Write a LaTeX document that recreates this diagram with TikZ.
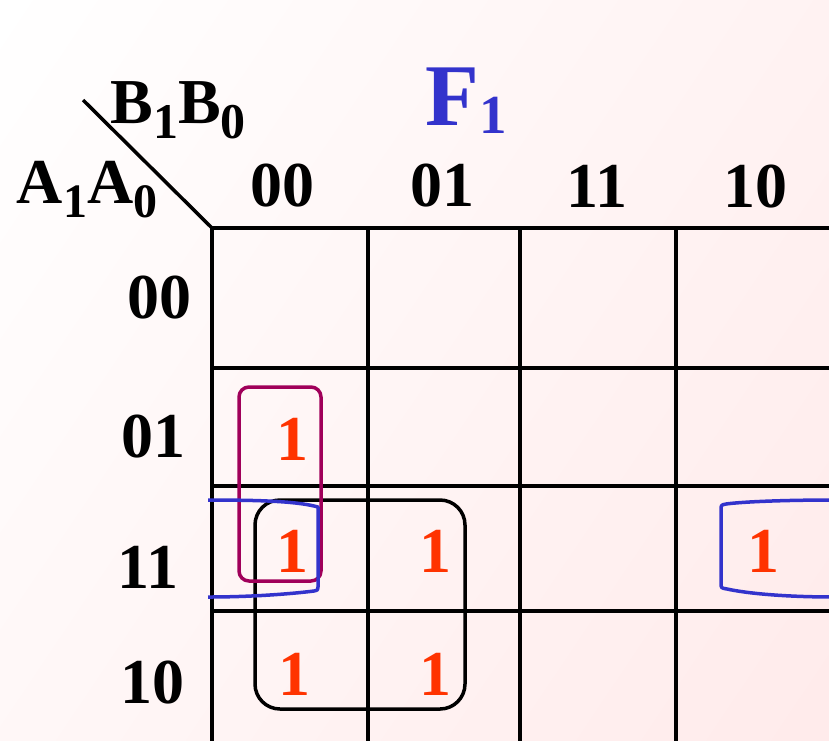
\documentclass[tikz,border=0pt]{standalone}
\usepackage{fontspec}
\setmainfont{Liberation Serif}
\usepackage{xcolor}
\usetikzlibrary{positioning, shadings}

\definecolor{fblue}{RGB}{51,51,204}
\definecolor{onered}{RGB}{255,51,0}
\definecolor{loopmaroon}{RGB}{160,0,90}
\newcommand{\lowsub}[3]{\raisebox{#2}{\fontsize{#1}{#1}\selectfont #3}}

\begin{document}
\begin{tikzpicture}[
        x=1pt, y=-1pt,
        head/.style={font=\fontsize{64}{64}\selectfont\bfseries, anchor=base, inner sep=0pt},
        title/.style={font=\fontsize{88}{88}\selectfont\bfseries, text=fblue, anchor=base, inner sep=0pt},
        onecell/.style={font=\fontsize{64}{64}\selectfont\bfseries, text=onered, anchor=base, inner sep=0pt},
        gridline/.style={line width=4pt, black},
        loopline/.style={line width=3.5pt, line join=round}
    ]
        \useasboundingbox (0,0) rectangle (829,740);
        \clip (0,0) rectangle (829,740);
        \shade[upper left=white, upper right=red!5, lower left=red!3, lower right=red!8] (0,0) rectangle (829,740);

        % grid
        \coordinate (corner) at (212,228);
        \foreach \gx in {212,368,520,676} \draw[gridline] (\gx,228) -- (\gx,760);
        \foreach \gy in {228,368,486,611} \draw[gridline] (210,\gy) -- (850,\gy);
        \draw[line width=3.5pt] (83,100) -- (corner);

        % labels
        \node[title] (F1) at (466,125) {F\lowsub{55}{-8pt}{1}};
        \node[head] (B) at (178,123) {B\lowsub{50}{-15pt}{1}B\lowsub{50}{-15pt}{0}};
        \node[head] (A) at (87,203) {A\lowsub{48}{-14pt}{1}A\lowsub{48}{-14pt}{0}};
        \node[head] (col00) at (282,206) {00};
        \node[head] (col01) at (442,206) {01};
        \node[head] (col11) at (597,207) {11};
        \node[head] (col10) at (755,207) {10};
        \node[head] (row00) at (159,318) {00};
        \node[head] (row01) at (153,457) {01};
        \node[head] (row11) at (148,588) {11};
        \node[head] (row10) at (152,703) {10};

        % ones
        \node[onecell] (m4) at (292,460) {1};
        \node[onecell] (m12) at (292,572) {1};
        \node[onecell] (m13) at (435,572) {1};
        \node[onecell] (m14) at (763,572) {1};
        \node[onecell] (m8) at (294,695) {1};
        \node[onecell] (m9) at (435,695) {1};

        % loops
        \draw[loopline, black, rounded corners=25pt] (255,500) rectangle (465,709);
        \draw[loopline, loopmaroon, rounded corners=10pt] (239,387) rectangle (321,581);
        \draw[loopline, fblue] (208,500) .. controls (270,500) and (300,502) .. (318,507)
            -- (318,587) .. controls (318,590) .. (314,591)
            .. controls (290,594) and (250,597) .. (208,597);
        \draw[loopline, fblue] (835,500) .. controls (780,500) and (740,502) .. (726,504)
            .. controls (721,505) .. (721,510) -- (721,583)
            .. controls (721,588) .. (727,589) .. controls (750,594) and (790,597) .. (835,597);
    \end{tikzpicture}
\end{document}
